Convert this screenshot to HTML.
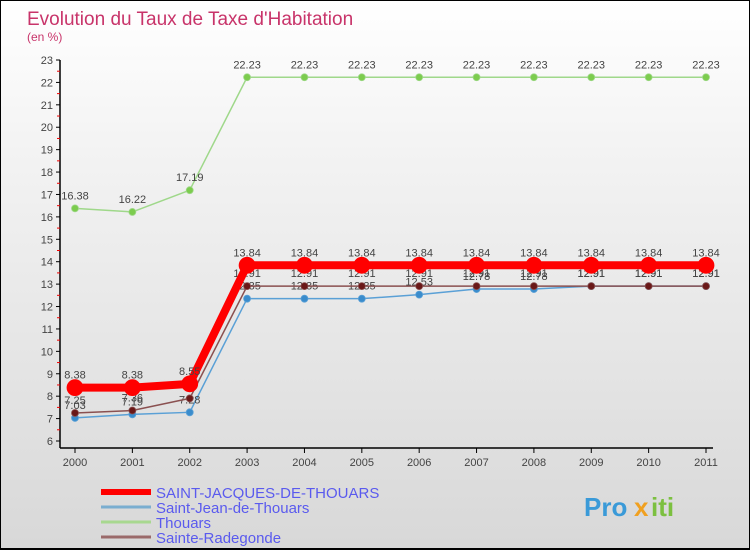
<!DOCTYPE html>
<html><head><meta charset="utf-8"><style>
html,body{margin:0;padding:0}
body{width:750px;height:550px;overflow:hidden;font-family:"Liberation Sans",sans-serif}
#wrap{position:relative;width:748px;height:547px;border:1px solid #000;border-bottom:2px solid #000;background:linear-gradient(#ffffff 0%,#f2f2f2 30%,#d8d8d8 100%)}
</style></head><body>
<div id="wrap">
<svg id="chart" width="748" height="547" xmlns="http://www.w3.org/2000/svg"></svg>
</div>
<script>
const years=["2000","2001","2002","2003","2004","2005","2006","2007","2008","2009","2010","2011"];
const sjt=[8.38,8.38,8.55,13.84,13.84,13.84,13.84,13.84,13.84,13.84,13.84,13.84];
const sjean=[7.03,7.19,7.28,12.35,12.35,12.35,12.53,12.78,12.78,12.91,12.91,12.91];
const thouars=[16.38,16.22,17.19,22.23,22.23,22.23,22.23,22.23,22.23,22.23,22.23,22.23];
const radeg=[7.25,7.36,7.9,12.91,12.91,12.91,12.91,12.91,12.91,12.91,12.91,12.91];
const yTicks=[6,7,8,9,10,11,12,13,14,15,16,17,18,19,20,21,22,23];
const NS="http://www.w3.org/2000/svg";
const svg=document.getElementById('chart');
function x(i){return 74+i*(705-74)/11;}
function y(v){return 440-(v-6)*(440-59)/17;}
function mk(t,a,p){const e=document.createElementNS(NS,t);for(const k in a)e.setAttribute(k,a[k]);(p||svg).appendChild(e);return e;}
function txt(s,a){const e=mk('text',a);e.textContent=s;return e;}
let e;
e=txt("Evolution du Taux de Taxe d'Habitation",{x:26,y:24,'font-size':19,fill:'#c8346a'});

e=txt("(en %)",{x:26,y:40,'font-size':12,fill:'#c8346a'});

// axes
e=mk('line',{x1:59,y1:59,x2:59,y2:447,stroke:'#000','stroke-width':1.5});

e=mk('line',{x1:59,y1:447,x2:712,y2:447,stroke:'#000','stroke-width':1.5});

yTicks.forEach(v=>{
  mk('line',{x1:55,y1:y(v),x2:59,y2:y(v),stroke:'#000'});
  if(v<23)mk('line',{x1:56,y1:y(v+0.5),x2:59,y2:y(v+0.5),stroke:'#e00'});
  e=txt(String(v),{x:52,y:y(v)+4,'font-size':11,fill:'#444','text-anchor':'end'});
  
});
years.forEach((yr,i)=>{
  mk('line',{x1:x(i),y1:447,x2:x(i),y2:452,stroke:'#000'});
  e=txt(yr,{x:x(i),y:465,'font-size':11,fill:'#444','text-anchor':'middle'});
  
});
function series(vals,color,w,r,dot,name,labCol){
  const g=mk('g',{});
  
  mk('polyline',{points:vals.map((v,i)=>x(i)+','+y(v)).join(' '),fill:'none',stroke:color,'stroke-width':w,'stroke-linejoin':'round'},g);
  vals.forEach((v,i)=>{
    const c=mk('circle',{cx:x(i),cy:y(v),r:r,fill:dot,stroke:color,'stroke-width':0.8},g);
    
    const t=mk('text',{x:x(i),y:y(v)-9,'font-size':11,fill:labCol||'#444','text-anchor':'middle'},g);
    t.textContent=String(v);
  });
}
series(thouars,'#9fd88a',1.5,3.5,'#7ccc4e','thouars-series');
series(sjean,'#5aa0d6',1.5,3.5,'#3a8ccc','saint-jean-series');
series(radeg,'#8a5050',1.5,3.5,'#6a1818','sainte-radegonde-series');
series(sjt,'#ff0000',8,8,'#ff0000','saint-jacques-series');
// legend
const leg=[["SAINT-JACQUES-DE-THOUARS","#ff0000",6],["Saint-Jean-de-Thouars","#7aaed0",3],["Thouars","#a8d890",3],["Sainte-Radegonde","#9a6a6a",3]];
leg.forEach((l,i)=>{
  const g=mk('g',{});
  
  const ly=491+i*15;
  mk('line',{x1:100,y1:ly,x2:150,y2:ly,stroke:l[1],'stroke-width':l[2]},g);
  const t=mk('text',{x:155,y:ly+6,'font-size':15,fill:'#5a5aee'},g);t.textContent=l[0];
});
// logo
e=txt("Pro",{x:583,y:515,'font-size':26,'font-weight':'bold',fill:'#3a9ad8'});

e=txt("x",{x:633,y:515,'font-size':26,'font-weight':'bold',fill:'#f0a020'});
e=txt("iti",{x:650,y:515,'font-size':26,'font-weight':'bold',fill:'#7cc040'});
</script>
</body></html>
